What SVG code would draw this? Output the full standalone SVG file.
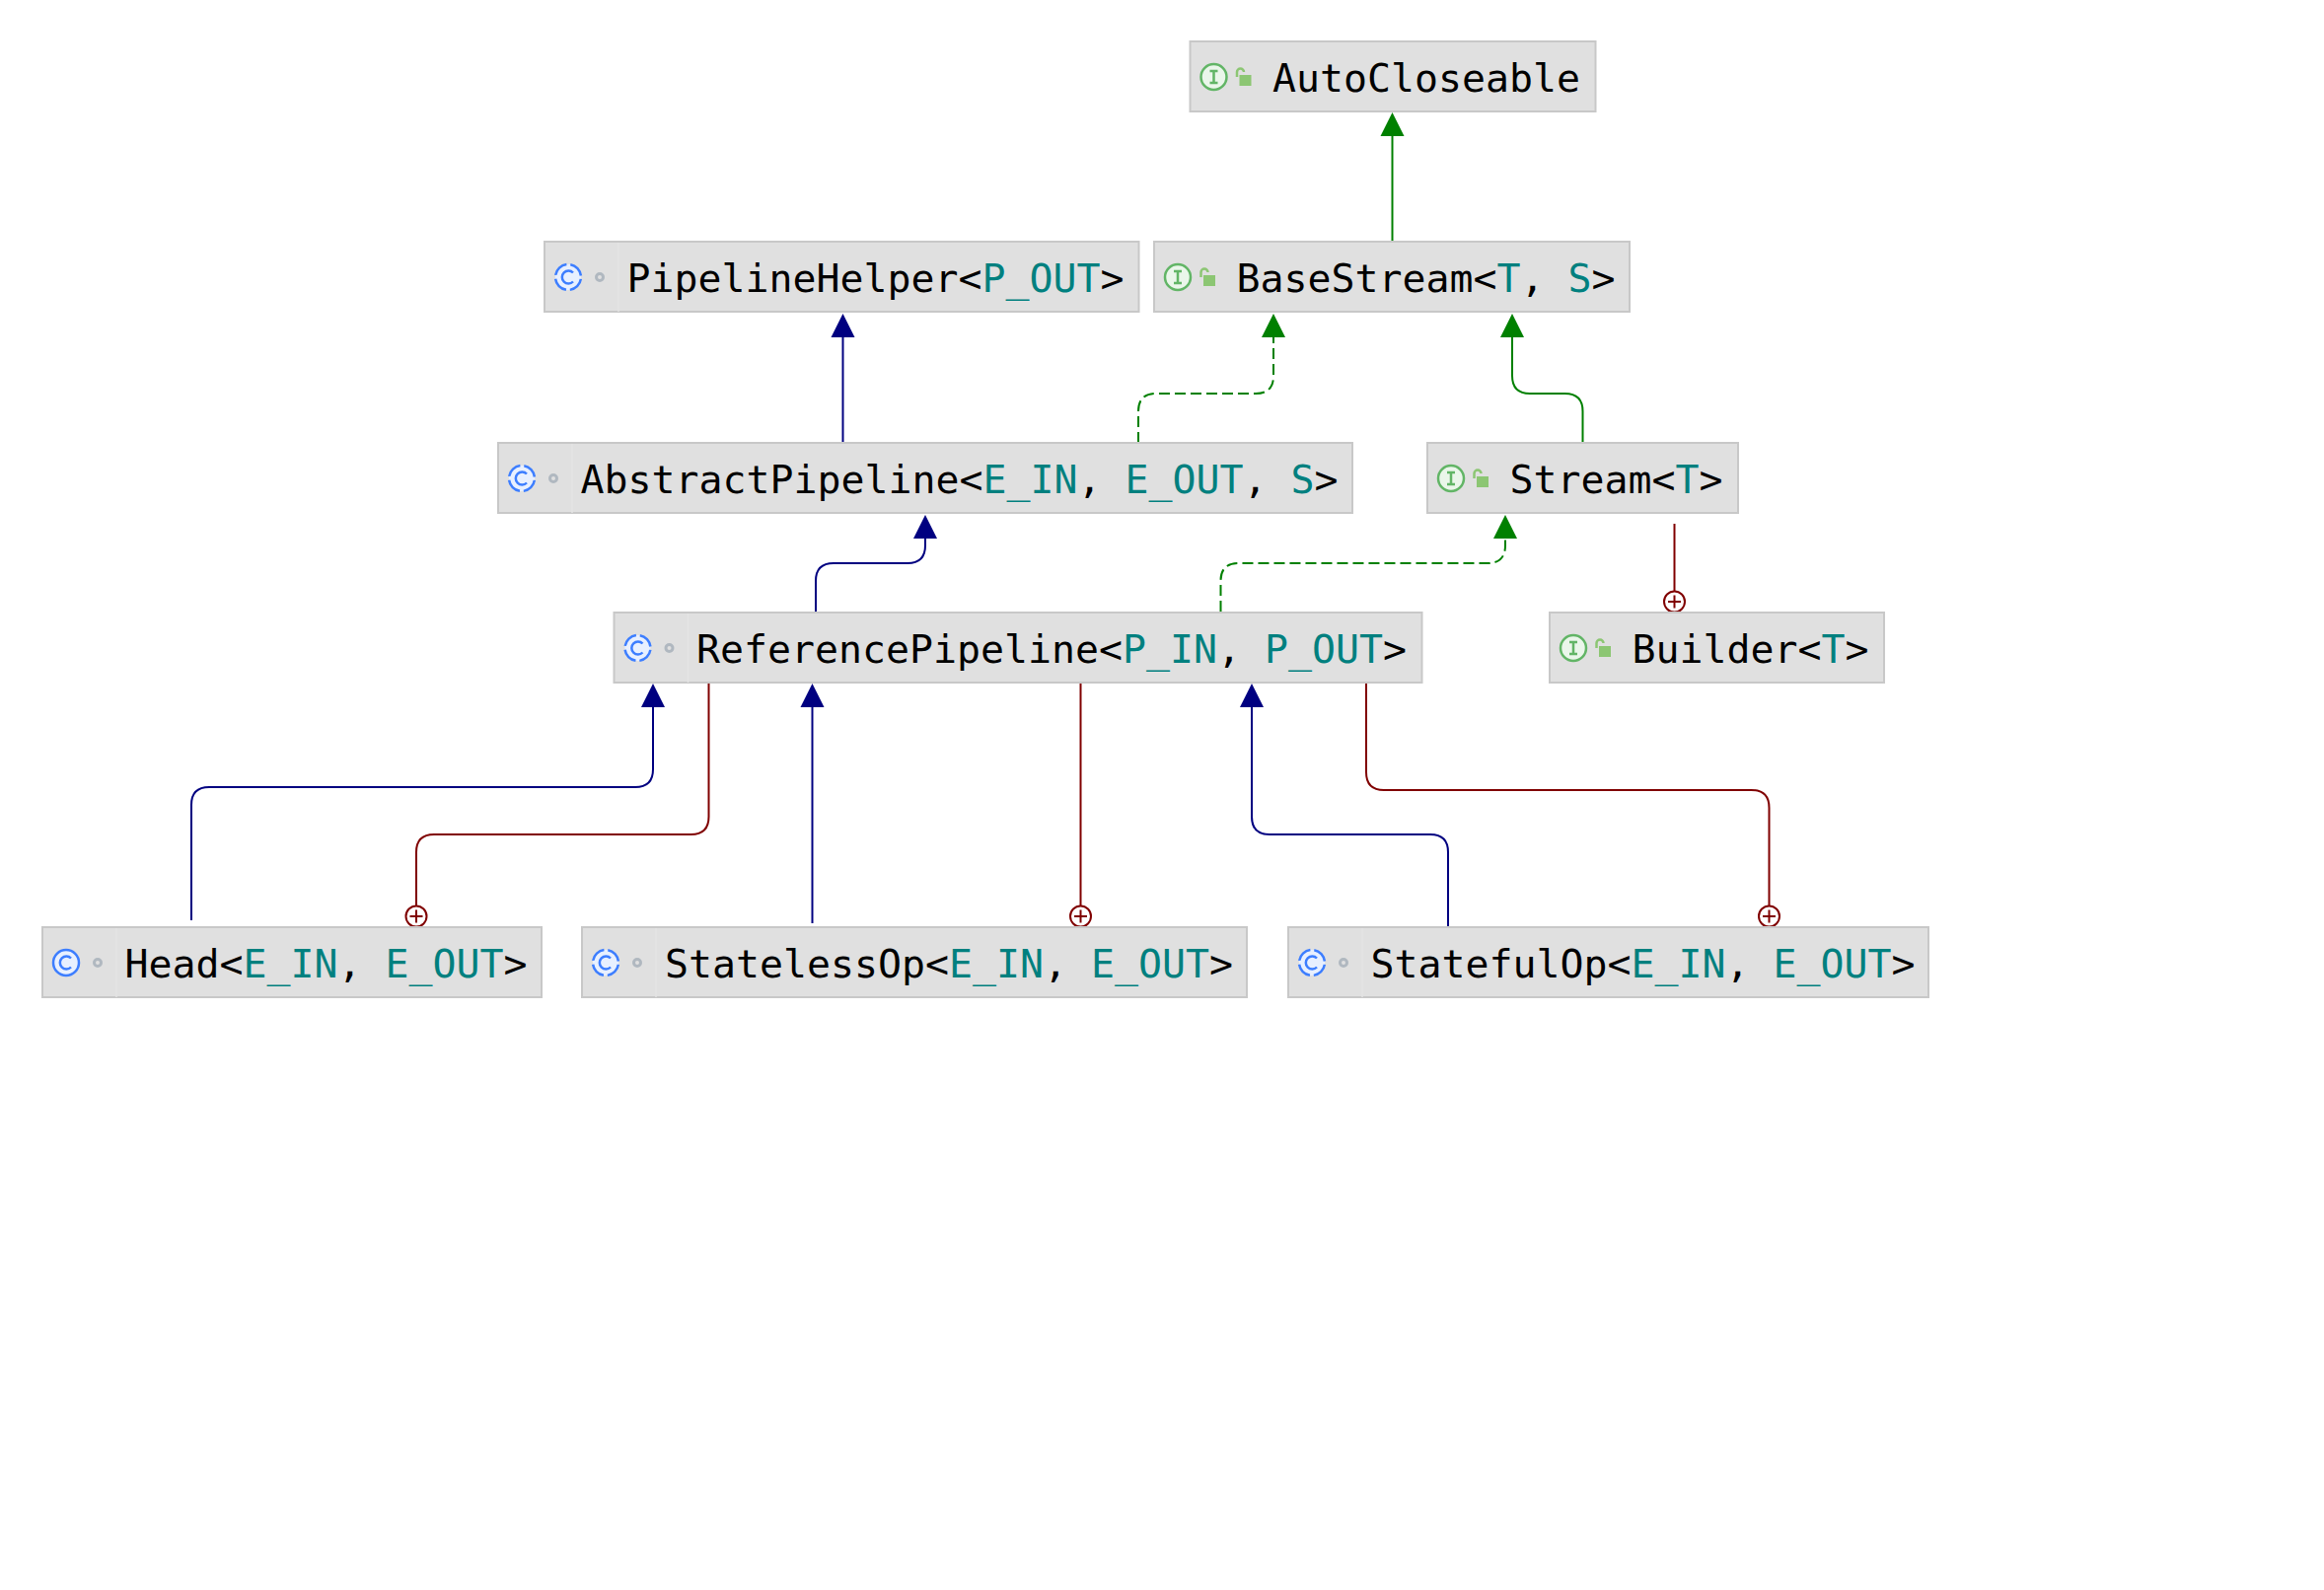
<svg xmlns="http://www.w3.org/2000/svg" width="2356" height="1612" viewBox="0 0 2356 1612">
<style>
.box{fill:#e0e0e0;stroke:#c8c8c8;stroke-width:2}
.div{stroke:#e4e4e4;stroke-width:1.5}
text{font-family:"DejaVu Sans Mono","Liberation Mono",monospace;font-size:39.870px;fill:#000}
.p{fill:#00807f}
.ic{fill:#eaf6ea;stroke:#62b566;stroke-width:2.500}
.ict{fill:none;stroke:#62b566;stroke-width:2.500}
.lock{fill:#8cc673}
.lk{fill:none;stroke:#8cc673;stroke-width:2.500}
.cc{fill:#e8f0ff;stroke:#3d7eff;stroke-width:2.500}
.abs{stroke-dasharray:16.400 4;stroke-dashoffset:-2}
.cg{fill:none;stroke:#3d7eff;stroke-width:2.500}
.dot{fill:none;stroke:#b0b8c0;stroke-width:3}
.c{fill:none;stroke-width:2}
.n{stroke:#000080}.g{stroke:#008000}.r{stroke:#800000}
.d{stroke-dasharray:11 5}
.plus{fill:#fff;stroke:#800000;stroke-width:2}
.fn{fill:#000080}.fg{fill:#008000}
</style>
<defs>
<path id="hn" class="fn" d="M0 0l12 24h-24z"/>
<path id="hg" class="fg" d="M0 0l12 24h-24z"/>
<g id="pl"><circle class="plus" r="10.500"/><path class="c r" d="M-6.500 0h13M0 -6.500v13"/></g>
<g id="iface"><circle class="ic" cx="24" cy="36" r="13"/><path class="ict" d="M20 30h8M20 42h8M24 30v12"/><rect class="lock" x="50" y="34" width="12" height="11"/><path class="lk" d="M47.500 36v-5a3.500 3.500 0 0 1 7 0"/></g>
<g id="cls"><circle class="cc" cx="24" cy="36" r="13"/><path class="cg" d="M29 31.500a6.500 6.500 0 1 0 0 9"/><circle class="dot" cx="56" cy="36" r="3.500"/><path class="div" d="M75 1v70"/></g>
<g id="acls"><circle class="cc abs" cx="24" cy="36" r="13"/><path class="cg" d="M29 31.500a6.500 6.500 0 1 0 0 9"/><circle class="dot" cx="56" cy="36" r="3.500"/><path class="div" d="M75 1v70"/></g>
</defs>
<rect width="2356" height="1612" fill="#fff"/>
<g id="connectors">
<path class="c g" d="M1411.500 245V138"/><use href="#hg" x="1411.500" y="114"/>
<path class="c n" d="M854.500 449V341"/><use href="#hn" x="854.500" y="318"/>
<path class="c g d" d="M1154 449V417Q1154 399 1172 399H1273Q1291 399 1291 381V341"/><use href="#hg" x="1291" y="318"/>
<path class="c g" d="M1604.500 449V417Q1604.500 399 1586.500 399H1551Q1533 399 1533 381V341"/><use href="#hg" x="1533" y="318"/>
<path class="c n" d="M827 620V589Q827 571 845 571H920Q938 571 938 553V546"/><use href="#hn" x="938" y="522"/>
<path class="c g d" d="M1237.500 620V589Q1237.500 571 1255.500 571H1508Q1526 571 1526 553V546"/><use href="#hg" x="1526" y="522"/>
<path class="c r" d="M1697.500 531V600"/><use href="#pl" x="1697.500" y="610"/>
<path class="c n" d="M194 933V816Q194 798 212 798H644Q662 798 662 780V717"/><use href="#hn" x="662" y="693"/>
<path class="c r" d="M718.500 693V828Q718.500 846 700.500 846H440Q422 846 422 864V919"/><use href="#pl" x="422" y="929"/>
<path class="c n" d="M823.500 936V717"/><use href="#hn" x="823.500" y="693"/>
<path class="c r" d="M1095.500 693V919"/><use href="#pl" x="1095.500" y="929"/>
<path class="c n" d="M1468 939V864Q1468 846 1450 846H1287Q1269 846 1269 828V717"/><use href="#hn" x="1269" y="693"/>
<path class="c r" d="M1385 693V783Q1385 801 1403 801H1775.500Q1793.500 801 1793.500 819V919"/><use href="#pl" x="1793.500" y="929"/>
</g>
<g id="AutoCloseable" transform="translate(1206.500 42)"><rect class="box" width="411" height="71"/><use href="#iface"/><text x="83.500" y="51">AutoCloseable</text></g>
<g id="BaseStream" transform="translate(1170 245)"><rect class="box" width="482" height="71"/><use href="#iface"/><text x="83.500" y="51">BaseStream&lt;<tspan class="p">T</tspan>, <tspan class="p">S</tspan>&gt;</text></g>
<g id="PipelineHelper" transform="translate(552 245)"><rect class="box" width="602.500" height="71"/><use href="#acls"/><text x="83.500" y="51">PipelineHelper&lt;<tspan class="p">P_OUT</tspan>&gt;</text></g>
<g id="AbstractPipeline" transform="translate(505 449)"><rect class="box" width="866" height="71"/><use href="#acls"/><text x="83.500" y="51">AbstractPipeline&lt;<tspan class="p">E_IN</tspan>, <tspan class="p">E_OUT</tspan>, <tspan class="p">S</tspan>&gt;</text></g>
<g id="Stream" transform="translate(1447 449)"><rect class="box" width="315" height="71"/><use href="#iface"/><text x="83.500" y="51">Stream&lt;<tspan class="p">T</tspan>&gt;</text></g>
<g id="ReferencePipeline" transform="translate(622.500 621)"><rect class="box" width="819" height="71"/><use href="#acls"/><text x="83.500" y="51">ReferencePipeline&lt;<tspan class="p">P_IN</tspan>, <tspan class="p">P_OUT</tspan>&gt;</text></g>
<g id="Builder" transform="translate(1571 621)"><rect class="box" width="339" height="71"/><use href="#iface"/><text x="83.500" y="51">Builder&lt;<tspan class="p">T</tspan>&gt;</text></g>
<g id="Head" transform="translate(43 940)"><rect class="box" width="506" height="71"/><use href="#cls"/><text x="83.500" y="51">Head&lt;<tspan class="p">E_IN</tspan>, <tspan class="p">E_OUT</tspan>&gt;</text></g>
<g id="StatelessOp" transform="translate(590 940)"><rect class="box" width="674" height="71"/><use href="#acls"/><text x="84" y="51">StatelessOp&lt;<tspan class="p">E_IN</tspan>, <tspan class="p">E_OUT</tspan>&gt;</text></g>
<g id="StatefulOp" transform="translate(1306 940)"><rect class="box" width="649" height="71"/><use href="#acls"/><text x="83.500" y="51">StatefulOp&lt;<tspan class="p">E_IN</tspan>, <tspan class="p">E_OUT</tspan>&gt;</text></g>
</svg>
